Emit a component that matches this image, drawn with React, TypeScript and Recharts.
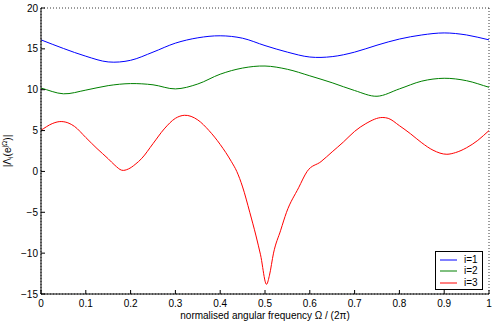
import React from 'react';
import { LineChart, Line, XAxis, YAxis, CartesianGrid, Legend, Label } from 'recharts';

// shared frequency grid for i=1 and i=2
const freqGrid = [0, 0.05, 0.1, 0.15, 0.2, 0.25, 0.3, 0.35, 0.4, 0.45, 0.5, 0.55, 0.6, 0.65, 0.7, 0.75, 0.8, 0.85, 0.9, 0.95, 1.0];
const valsI1 = [16.1, 15.05, 14.1, 13.4, 13.6, 14.6, 15.7, 16.35, 16.6, 16.3, 15.4, 14.6, 14.0, 14.05, 14.6, 15.45, 16.2, 16.7, 16.95, 16.7, 16.1];
const valsI2 = [10.2, 9.5, 9.95, 10.5, 10.75, 10.6, 10.1, 10.7, 11.9, 12.65, 12.9, 12.5, 11.7, 10.85, 9.9, 9.2, 10.1, 11.05, 11.4, 11.1, 10.3];

// i=3 has a sharp notch, so it is sampled more densely there
const freqI3 = [0, 0.025, 0.042, 0.06, 0.075, 0.1, 0.125, 0.15, 0.165, 0.18, 0.195, 0.21, 0.225, 0.25, 0.275, 0.3, 0.32, 0.35, 0.375, 0.4, 0.425, 0.437, 0.45, 0.466, 0.48, 0.49, 0.504, 0.51, 0.519, 0.535, 0.548, 0.575, 0.594, 0.625, 0.65, 0.675, 0.7, 0.725, 0.763, 0.775, 0.8, 0.825, 0.85, 0.875, 0.906, 0.925, 0.95, 0.975, 1.0];
const valsI3 = [5.05, 5.85, 6.1, 5.95, 5.5, 4.15, 2.8, 1.55, 0.75, 0.15, 0.3, 0.85, 1.6, 3.4, 5.2, 6.5, 6.87, 6.3, 5.0, 3.3, 1.2, 0.0, -1.9, -5.0, -7.9, -10.2, -13.8, -12.7, -10.0, -7.2, -5.0, -2.0, 0.0, 1.2, 2.4, 3.6, 4.9, 5.85, 6.6, 6.5, 5.6, 4.6, 3.5, 2.6, 2.1, 2.3, 2.9, 3.8, 5.0];

const xTicks = [0, 0.1, 0.2, 0.3, 0.4, 0.5, 0.6, 0.7, 0.8, 0.9, 1];
const yTicks = [-15, -10, -5, 0, 5, 10, 15, 20];
const seriesNames = ['i=1', 'i=2', 'i=3'];
const seriesColors = ['#0000ff', '#008000', '#ff0000'];
const xLabel = 'normalised angular frequency \u03A9 / (2\u03C0)';

const dataI12 = freqGrid.map((f, i) => ({ f, v1: valsI1[i], v2: valsI2[i] }));
const dataI3 = freqI3.map((f, i) => ({ f, v3: valsI3[i] }));

const FONT = '"Liberation Sans", Arial, Helvetica, sans-serif';

const fmtY = (v: number) => (v < 0 ? '\u2212' + Math.abs(v) : String(v));

// smooth cubic Hermite curve (three-point tangents, no monotone clamping)
function smoothCurve(context: any) {
  let xs: number[] = [];
  let ys: number[] = [];
  return {
    areaStart() {},
    areaEnd() {},
    lineStart() {
      xs = [];
      ys = [];
    },
    point(x: number, y: number) {
      xs.push(+x);
      ys.push(+y);
    },
    lineEnd() {
      const n = xs.length;
      if (n === 0) return;
      context.moveTo(xs[0], ys[0]);
      if (n === 1) return;
      const h: number[] = [];
      const s: number[] = [];
      for (let i = 0; i < n - 1; i++) {
        h.push(xs[i + 1] - xs[i]);
        s.push(h[i] === 0 ? 0 : (ys[i + 1] - ys[i]) / h[i]);
      }
      const m: number[] = [];
      for (let i = 0; i < n; i++) {
        if (i === 0) m.push(s[0]);
        else if (i === n - 1) m.push(s[n - 2]);
        else m.push((s[i - 1] * h[i] + s[i] * h[i - 1]) / (h[i - 1] + h[i]));
      }
      for (let i = 0; i < n - 1; i++) {
        const d = h[i] / 3;
        context.bezierCurveTo(xs[i] + d, ys[i] + m[i] * d, xs[i + 1] - d, ys[i + 1] - m[i + 1] * d, xs[i + 1], ys[i + 1]);
      }
    },
  };
}

const YLabel = (props: any) => {
  const vb = props.viewBox || { x: 0, y: 8, width: 41, height: 286 };
  const cx = vb.x + 11;
  const cy = vb.y + vb.height / 2;
  return (
    <text
      x={cx}
      y={cy}
      transform={`rotate(-90 ${cx} ${cy})`}
      textAnchor="middle"
      fontSize={10}
      fontFamily={FONT}
      fill="#000"
    >
      |Λ
      <tspan fontSize={7} dy={2}>i</tspan>
      <tspan dy={-2}>(e</tspan>
      <tspan fontSize={7} dy={-4}>jΩ</tspan>
      <tspan dy={4}>)|</tspan>
    </text>
  );
};

const LegendBox = (props: any) => {
  const payload = props.payload || [];
  return (
    <div
      style={{
        width: 46,
        height: 35,
        border: '1px solid #000',
        background: '#fff',
        fontFamily: FONT,
        fontSize: 10,
        paddingTop: 2,
        boxSizing: 'content-box',
      }}
    >
      {payload.map((p: any, i: number) => (
        <div key={i} style={{ display: 'flex', alignItems: 'center', height: 11.5 }}>
          <svg width={28} height={10} style={{ display: 'block' }}>
            <line x1={4} x2={21} y1={5} y2={5} stroke={p.color} strokeWidth={1} />
          </svg>
          <span style={{ lineHeight: '10px' }}>{p.value}</span>
        </div>
      ))}
    </div>
  );
};

export default function App() {
  return (
    <div style={{ position: 'absolute', left: 0, top: 0, width: 492, height: 322, background: '#fff' }}>
      <LineChart width={492} height={322} margin={{ top: 8, right: 3, left: 0, bottom: 0 }}>
        <CartesianGrid stroke="#222" strokeDasharray="1 2" strokeWidth={0.9} />
        <XAxis
          xAxisId="b"
          dataKey="f"
          type="number"
          domain={[0, 1]}
          ticks={xTicks}
          allowDataOverflow
          height={28}
          tickSize={-4}
          tickMargin={9.5}
          axisLine={{ stroke: '#000' }}
          tickLine={{ stroke: '#000' }}
          tick={{ fill: '#000', fontSize: 10, fontFamily: FONT }}
          interval={0}
        >
          <Label value={xLabel} position="insideBottom" offset={3} fontSize={10} fontFamily={FONT} fill="#000" />
        </XAxis>
        <XAxis
          xAxisId="t"
          dataKey="f"
          type="number"
          orientation="top"
          domain={[0, 1]}
          ticks={xTicks}
          height={0}
          tickSize={-4}
          axisLine={{ stroke: '#000' }}
          tickLine={{ stroke: '#000' }}
          tick={{ fontSize: 0 }}
          tickFormatter={() => ''}
          interval={0}
        />
        <YAxis
          yAxisId="l"
          type="number"
          domain={[-15, 20]}
          ticks={yTicks}
          allowDataOverflow
          width={41}
          tickSize={-4}
          tickMargin={7}
          axisLine={{ stroke: '#000' }}
          tickLine={{ stroke: '#000' }}
          tick={{ fill: '#000', fontSize: 10, fontFamily: FONT }}
          tickFormatter={fmtY}
          interval={0}
          label={<YLabel />}
        />
        <YAxis
          yAxisId="r"
          type="number"
          orientation="right"
          domain={[-15, 20]}
          ticks={yTicks}
          width={0}
          tickSize={-4}
          axisLine={{ stroke: '#000' }}
          tickLine={{ stroke: '#000' }}
          tick={{ fontSize: 0 }}
          tickFormatter={() => ''}
          interval={0}
        />
        <Line
          xAxisId="b"
          yAxisId="l"
          data={dataI12}
          dataKey="v1"
          name={seriesNames[0]}
          type={smoothCurve as any}
          stroke={seriesColors[0]}
          strokeWidth={1}
          dot={false}
          isAnimationActive={false}
        />
        <Line
          xAxisId="b"
          yAxisId="l"
          data={dataI12}
          dataKey="v2"
          name={seriesNames[1]}
          type={smoothCurve as any}
          stroke={seriesColors[1]}
          strokeWidth={1}
          dot={false}
          isAnimationActive={false}
        />
        <Line
          xAxisId="b"
          yAxisId="l"
          data={dataI3}
          dataKey="v3"
          name={seriesNames[2]}
          type={smoothCurve as any}
          stroke={seriesColors[2]}
          strokeWidth={1}
          dot={false}
          isAnimationActive={false}
        />
        <Legend
          layout="vertical"
          align="center"
          verticalAlign="middle"
          content={<LegendBox />}
          wrapperStyle={{ left: 435, top: 251, width: 48, height: 37 }}
        />
      </LineChart>
    </div>
  );
}
